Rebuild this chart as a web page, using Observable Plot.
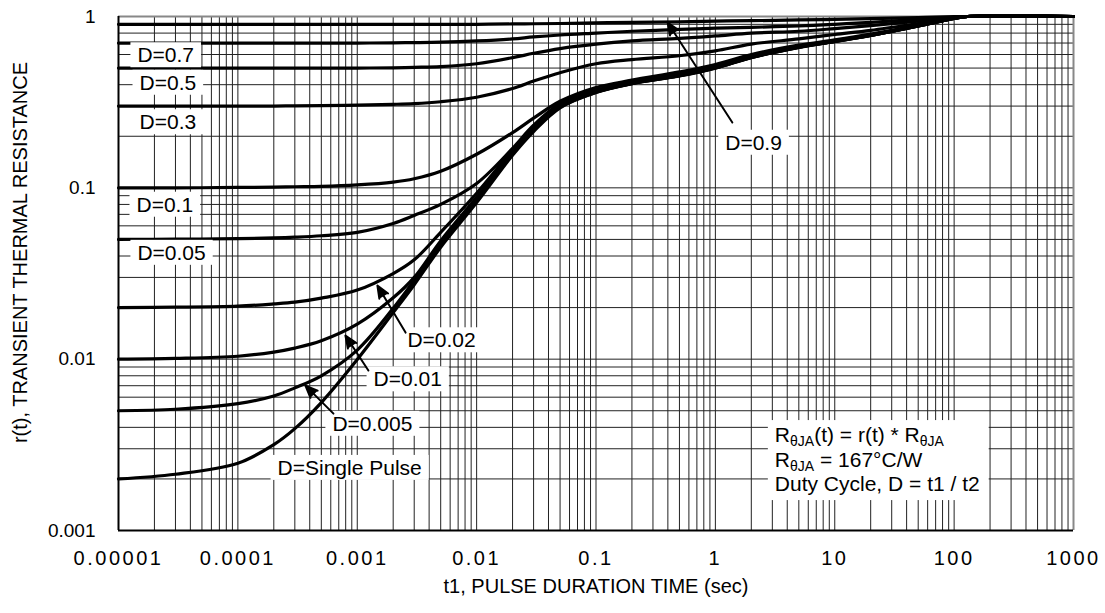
<!DOCTYPE html>
<html><head><meta charset="utf-8">
<script src="https://cdn.jsdelivr.net/npm/d3@7"></script>
<script src="https://cdn.jsdelivr.net/npm/@observablehq/plot@0.6"></script>
<style>
html,body{margin:0;padding:0;background:#fff;}
#chart svg{display:block;}
</style></head><body><div id="chart"></div>
<script>
// ---- data ----
const tValues = [1e-5,3e-5,1e-4,2e-4,3e-4,5e-4,1e-3,2e-3,3e-3,5e-3,1e-2,2e-2,3e-2,5e-2,0.1,0.2,0.5,1,2,5,10,20,50,100,130,1000];
const rSingle = [0.0020,0.00213,0.00247,0.00317,0.00393,0.00558,0.00995,0.0187,0.0272,0.045,0.082,0.155,0.213,0.293,0.36,0.405,0.45,0.50,0.575,0.66,0.715,0.775,0.88,0.975,1,1];
const rD0005 = [0.0050,0.0051,0.0055,0.0061,0.0068,0.0080,0.0113,0.0198,0.0288,0.047,0.085,0.158,0.217,0.296,0.361,0.406,0.451,0.501,0.576,0.661,0.715,0.775,0.88,0.975,1,1];
const rD001 = [0.0100,0.0101,0.0104,0.0110,0.0116,0.0128,0.0160,0.0228,0.030,0.049,0.088,0.161,0.22,0.30,0.363,0.407,0.452,0.502,0.577,0.662,0.716,0.776,0.881,0.975,1,1];
const rD002 = [0.0200,0.0201,0.0204,0.021,0.0215,0.0227,0.0253,0.0316,0.038,0.055,0.093,0.166,0.225,0.304,0.366,0.41,0.455,0.505,0.58,0.664,0.718,0.778,0.882,0.975,1,1];
const rD005 = [0.050,0.0502,0.0505,0.051,0.0515,0.0525,0.055,0.062,0.069,0.080,0.106,0.17,0.232,0.31,0.372,0.415,0.462,0.512,0.588,0.67,0.722,0.782,0.885,0.976,1,1];
const rD01 = [0.100,0.100,0.1005,0.101,0.1015,0.102,0.104,0.108,0.113,0.125,0.157,0.21,0.255,0.32,0.385,0.425,0.475,0.525,0.60,0.68,0.73,0.79,0.89,0.977,1,1];
const rD03 = [0.300,0.300,0.300,0.300,0.301,0.302,0.304,0.307,0.31,0.318,0.338,0.38,0.42,0.47,0.53,0.56,0.59,0.63,0.69,0.74,0.785,0.83,0.91,0.98,1,1];
const rD05 = [0.5,0.5,0.5,0.5,0.5,0.5,0.5,0.502,0.505,0.51,0.53,0.575,0.61,0.65,0.69,0.72,0.745,0.77,0.80,0.82,0.85,0.885,0.94,0.985,1,1];
const rD07 = [0.7,0.7,0.7,0.7,0.7,0.7,0.7,0.702,0.704,0.708,0.72,0.74,0.76,0.78,0.80,0.82,0.84,0.855,0.865,0.88,0.90,0.925,0.96,0.99,1,1];
const rD09 = [0.9,0.9,0.9,0.9,0.9,0.9,0.9,0.9,0.9,0.9,0.9,0.905,0.907,0.91,0.918,0.925,0.93,0.94,0.945,0.955,0.962,0.972,0.985,0.997,1,1];
const seriesNames = ["Single Pulse","0.005","0.01","0.02","0.05","0.1","0.3","0.5","0.7","0.9"];
const seriesValues = [rSingle,rD0005,rD001,rD002,rD005,rD01,rD03,rD05,rD07,rD09];

const xTicks = [1e-5,1e-4,1e-3,1e-2,1e-1,1,10,100,1000];
const xTickLabels = ["0.00001","0.0001","0.001","0.01","0.1","1","10","100","1000"];
const yTicks = [0.001,0.01,0.1,1];
const yTickLabels = ["0.001","0.01","0.1","1"];

const labelTexts = ["D=0.7","D=0.5","D=0.3","D=0.1","D=0.05","D=0.02","D=0.01","D=0.005","D=Single Pulse","D=0.9"];
const labelT = [1.44e-5,1.5e-5,1.5e-5,1.415e-5,1.44e-5,2.63e-3,1.37e-3,6.19e-4,2.15e-4,1.21];
const labelR = [0.592,0.409,0.2405,0.0794,0.0416,0.01284,0.0076,0.00418,0.00231,0.1826];

const arrowFromT = [1.387,2.54e-3,1.24e-3,6.32e-4];
const arrowFromR = [0.2405,0.01429,0.00858,0.00481];
const arrowToT = [0.398,1.475e-3,7.96e-4,3.68e-4];
const arrowToR = [0.923,0.0269,0.01374,0.00701];

const annoT = [3.18];
const annoR = [0.00326];
const annoLines = [
  [["R",0],["θJA",1],["(t) = r(t) * R",0],["θJA",1]],
  [["R",0],["θJA",1],[" = 167°C/W",0]],
  [["Duty Cycle, D = t1 / t2",0]]
];
const xTitle = "t1, PULSE DURATION TIME (sec)";
const yTitle = "r(t), TRANSIENT THERMAL RESISTANCE";

// ---- build tables ----
const rows = [];
seriesNames.forEach((s, j) => tValues.forEach((t, i) => rows.push({s, t, r: seriesValues[j][i]})));
const labels = labelTexts.map((text, i) => ({text, t: labelT[i], r: labelR[i]}));
const arrows = arrowFromT.map((t1, i) => ({t1, r1: arrowFromR[i], t2: arrowToT[i], r2: arrowToR[i]}));

const xGrid = [], yGrid = [];
for (let e = -5; e <= 3; e++) for (let m = 1; m <= 9; m++) { const v = m * Math.pow(10, e); if (v <= 1000 * 1.0001) xGrid.push(+v.toPrecision(6)); }
for (let e = -3; e <= 0; e++) for (let m = 1; m <= 9; m++) { const v = m * Math.pow(10, e); if (v <= 1.0001) yGrid.push(+v.toPrecision(6)); }

const FONT = "'Liberation Sans', Arial, Helvetica, sans-serif";

const plot = Plot.plot({
  width: 1105, height: 613,
  marginLeft: 118, marginRight: 32, marginTop: 16, marginBottom: 83,
  style: {fontFamily: FONT, fontSize: "20px", background: "#fff", color: "#000", overflow: "visible"},
  x: {type: "log", domain: [1e-5, 1000]},
  y: {type: "log", domain: [0.001, 1]},
  marks: [
    Plot.ruleX(xGrid, {stroke: "#222", strokeWidth: 1}),
    Plot.ruleY(yGrid, {stroke: "#222", strokeWidth: 1}),
    Plot.ruleX([1000], {stroke: "#888", strokeWidth: 2}),
    Plot.ruleY([1], {stroke: "#888", strokeWidth: 2}),
    Plot.ruleX([1e-5], {stroke: "#000", strokeWidth: 2}),
    Plot.ruleY([0.001], {stroke: "#000", strokeWidth: 2}),
    Plot.axisX({ticks: xTicks, tickFormat: d => xTickLabels[xTicks.indexOf(d)], tickSize: 0, tickPadding: 20, label: null, fontSize: 20, ariaDescription: "xticks"}),
    Plot.axisY({ticks: yTicks, tickFormat: d => yTickLabels[yTicks.indexOf(d)], tickSize: 0, tickPadding: 23, label: null, fontSize: 19}),
    Plot.text([xTitle], {frameAnchor: "bottom", dy: 62, fontSize: 20}),
    Plot.text([yTitle], {frameAnchor: "left", textAnchor: "middle", rotate: -90, dx: -98, dy: -21, fontSize: 20}),
    Plot.line(rows, {x: "t", y: "r", z: "s", stroke: "#000", strokeWidth: 3.2, curve: "catmull-rom"}),
    Plot.text(labels, {x: "t", y: "r", text: "text", textAnchor: "start", fontSize: 21, fill: "#000", ariaDescription: "dlabel"}),
    Plot.arrow(arrows, {x1: "t1", y1: "r1", x2: "t2", y2: "r2", stroke: "#000", fill: "#000", strokeWidth: 2, headLength: 10, headAngle: 45})
  ]
});
document.getElementById("chart").append(plot);

const svgNode = plot.tagName.toLowerCase() === "svg" ? plot : plot.querySelector("svg");
const svg = d3.select(svgNode);
// wider digit spacing on the x tick labels
svg.selectAll('g[aria-description="xticks"] text').style("letter-spacing", "2.5px");
// white boxes behind the D= labels
svg.selectAll('g[aria-description="dlabel"] text').each(function() {
  const b = this.getBBox();
  d3.select(this.parentNode).insert("rect", () => this)
    .attr("transform", this.getAttribute("transform"))
    .attr("x", b.x - 7).attr("y", b.y - 1)
    .attr("width", b.width + 14).attr("height", b.height + 2)
    .attr("fill", "#fff");
});

// annotation block with subscripts
const sx = plot.scale("x"), sy = plot.scale("y");
const ax = sx.apply(annoT[0]), ay = sy.apply(annoR[0]);
const ag = svg.append("g").attr("font-family", FONT).attr("font-size", 21).attr("fill", "#000").attr("text-anchor", "start");
annoLines.forEach((parts, li) => {
  const tx = ag.append("text").attr("x", ax).attr("y", ay + li * 24.5);
  let sub = 0;
  parts.forEach(([s, isSub]) => {
    const ts = tx.append("tspan").text(s);
    if (isSub && !sub) { ts.attr("dy", 4).attr("font-size", 14); sub = 1; }
    else if (isSub) { ts.attr("font-size", 14); }
    else if (!isSub && sub) { ts.attr("dy", -4); sub = 0; }
  });
});
const ab = ag.node().getBBox();
ag.insert("rect", ":first-child")
  .attr("x", ab.x - 7).attr("y", ab.y - 3)
  .attr("width", ab.width + 16).attr("height", ab.height + 8)
  .attr("fill", "#fff");
</script>
</body></html>
